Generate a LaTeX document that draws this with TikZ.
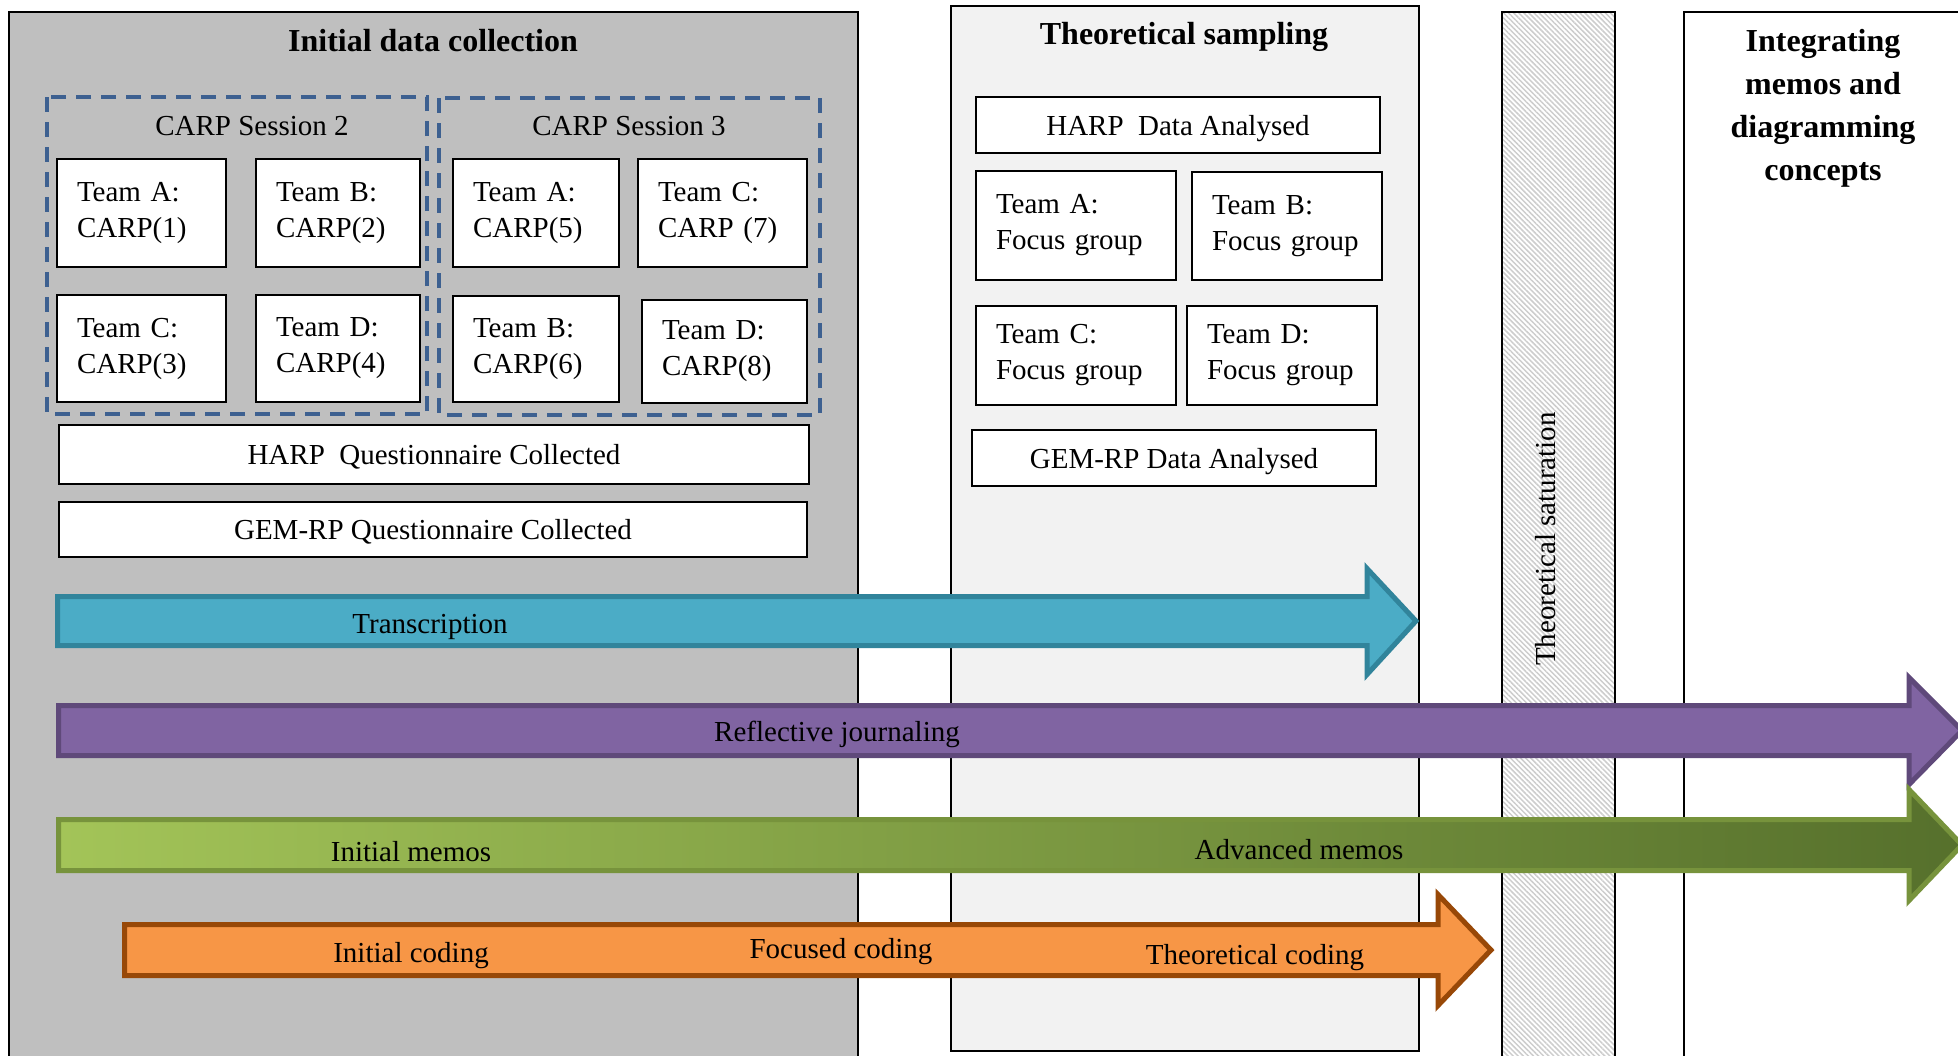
\documentclass[tikz,border=0pt]{standalone}
\usepackage{fontspec}
\setmainfont{Liberation Serif}
\usetikzlibrary{patterns.meta}
\definecolor{panelgray}{HTML}{BFBFBF}
\definecolor{panellight}{HTML}{F2F2F2}
\definecolor{sessblue}{HTML}{3D6090}
\definecolor{tealfill}{HTML}{4BACC6}
\definecolor{tealline}{HTML}{31849B}
\definecolor{purpfill}{HTML}{8064A2}
\definecolor{purpline}{HTML}{5F497A}
\definecolor{greenleft}{HTML}{A3C458}
\definecolor{greenright}{HTML}{56702C}
\definecolor{greenline}{HTML}{77933C}
\definecolor{orfill}{HTML}{F79646}
\definecolor{orline}{HTML}{984807}
\definecolor{hatchgray}{HTML}{CDCDCD}
\tikzset{
  txt/.style={font=\fontsize{29}{36}\selectfont, inner sep=0pt},
  ttl/.style={font=\fontsize{32}{43}\selectfont\bfseries, align=center, inner sep=0pt},
  wbox/.style={draw=black, line width=2pt, fill=white, font=\fontsize{29}{36}\selectfont},
  linebox/.style={wbox, text depth=0pt},
  teambox/.style={wbox, align=left, inner xsep=20pt, inner ysep=0pt},
  panel/.style={draw=black, line width=2pt},
  sessbox/.style={draw=sessblue, line width=4pt, dash pattern=on 15pt off 10pt},
  arr/.style={line width=5pt, line join=miter},
}
\begin{document}
\begin{tikzpicture}[x=1pt,y=-1pt]
\useasboundingbox (0,0) rectangle (1958,1055);
\clip (0,0) rectangle (1958,1055);
\fill[white] (0,0) rectangle (1958,1055);

% panels
\draw[panel, fill=panelgray] (9,12) rectangle (858,1075);
\draw[panel, fill=panellight] (951,6) rectangle (1419,1051);
\fill[white] (1502,12) rectangle (1615,1075);
\fill[pattern={Lines[angle=-45,distance=3.6pt,line width=1.5pt]}, pattern color=hatchgray] (1502,12) rectangle (1615,1075);
\draw[panel] (1502,12) rectangle (1615,1075);
\draw[panel, fill=white] (1684,12) rectangle (1975,1075);

% titles
\node[ttl] (t1) at (433,41) {Initial data collection};
\node[ttl] (t2) at (1184,37) {Theoretical sampling};
\node[ttl] (t4) at (1823,108) {Integrating\\memos and\\diagramming\\concepts};
\node[txt, rotate=90] (t3) at (1546,539) {Theoretical saturation};

% sessions
\draw[sessbox] (47,97) rectangle (427,414);
\draw[sessbox] (439,98) rectangle (820,415);
\node[txt] (s2) at (252,126) {CARP Session 2};
\node[txt] (s3) at (629,126) {CARP Session 3};

\node[teambox, text width=129pt, minimum height=108pt] (c1) at (141.5,213) {Team A:\\CARP(1)};
\node[teambox, text width=124pt, minimum height=108pt] (c2) at (338,213) {Team B:\\CARP(2)};
\node[teambox, text width=129pt, minimum height=107pt] (c3) at (141.5,348.5) {Team C:\\CARP(3)};
\node[teambox, text width=124pt, minimum height=107pt] (c4) at (338,348.5) {Team D:\\CARP(4)};
\node[teambox, text width=126pt, minimum height=108pt] (c5) at (536,213) {Team A:\\CARP(5)};
\node[teambox, text width=129pt, minimum height=108pt] (c7) at (722.5,213) {Team C:\\CARP (7)};
\node[teambox, text width=126pt, minimum height=106pt] (c6) at (536,349) {Team B:\\CARP(6)};
\node[teambox, text width=125pt, minimum height=103pt] (c8) at (724.5,351.5) {Team D:\\CARP(8)};

\node[linebox, minimum width=750pt, minimum height=59pt] (hq) at (434,454.5) {HARP\ \ Questionnaire Collected};
\node[linebox, minimum width=748pt, minimum height=55pt] (gq) at (433,529.5) {GEM-RP Questionnaire Collected};

% theoretical sampling boxes
\node[linebox, minimum width=404pt, minimum height=56pt] (hd) at (1178,125) {HARP\ \ Data Analysed};
\node[teambox, text width=160pt, minimum height=109pt] (fa) at (1076,225.5) {Team A:\\Focus group};
\node[teambox, text width=150pt, minimum height=108pt] (fb) at (1287,226) {Team B:\\Focus group};
\node[teambox, text width=160pt, minimum height=99pt] (fc) at (1076,355.5) {Team C:\\Focus group};
\node[teambox, text width=150pt, minimum height=99pt] (fd) at (1282,355.5) {Team D:\\Focus group};
\node[linebox, minimum width=404pt, minimum height=56pt] (gd) at (1174,458) {GEM-RP Data Analysed};

% arrows
\draw[arr, draw=tealline, fill=tealfill] (57.5,596.5) -- (1367,596.5) -- (1367,568.5) -- (1416,621) -- (1367,674.5) -- (1367,645.5) -- (57.5,645.5) -- cycle;
\draw[arr, draw=purpline, fill=purpfill] (58.5,705.5) -- (1909,705.5) -- (1909,677.5) -- (1962,730.5) -- (1909,784.5) -- (1909,755.5) -- (58.5,755.5) -- cycle;
\shade[left color=greenleft, right color=greenright] (58.5,819.5) -- (1909,819.5) -- (1909,789.5) -- (1962,845) -- (1909,900.5) -- (1909,870.5) -- (58.5,870.5) -- cycle;
\draw[arr, draw=greenline] (58.5,819.5) -- (1909,819.5) -- (1909,789.5) -- (1962,845) -- (1909,900.5) -- (1909,870.5) -- (58.5,870.5) -- cycle;
\draw[arr, draw=orline, fill=orfill] (124.5,924.5) -- (1438,924.5) -- (1438,894.5) -- (1491,950) -- (1438,1005.5) -- (1438,975.5) -- (124.5,975.5) -- cycle;

\node[txt] (tr) at (430,627) {Transcription};
\node[txt] (rj) at (837,734) {Reflective journaling};
\node[txt] (im) at (411,852) {Initial memos};
\node[txt] (am) at (1299,850) {Advanced memos};
\node[txt] (ic) at (411,956) {Initial coding};
\node[txt] (fcd) at (841,952) {Focused coding};
\node[txt] (tc) at (1255,958) {Theoretical coding};
\end{tikzpicture}
\end{document}
